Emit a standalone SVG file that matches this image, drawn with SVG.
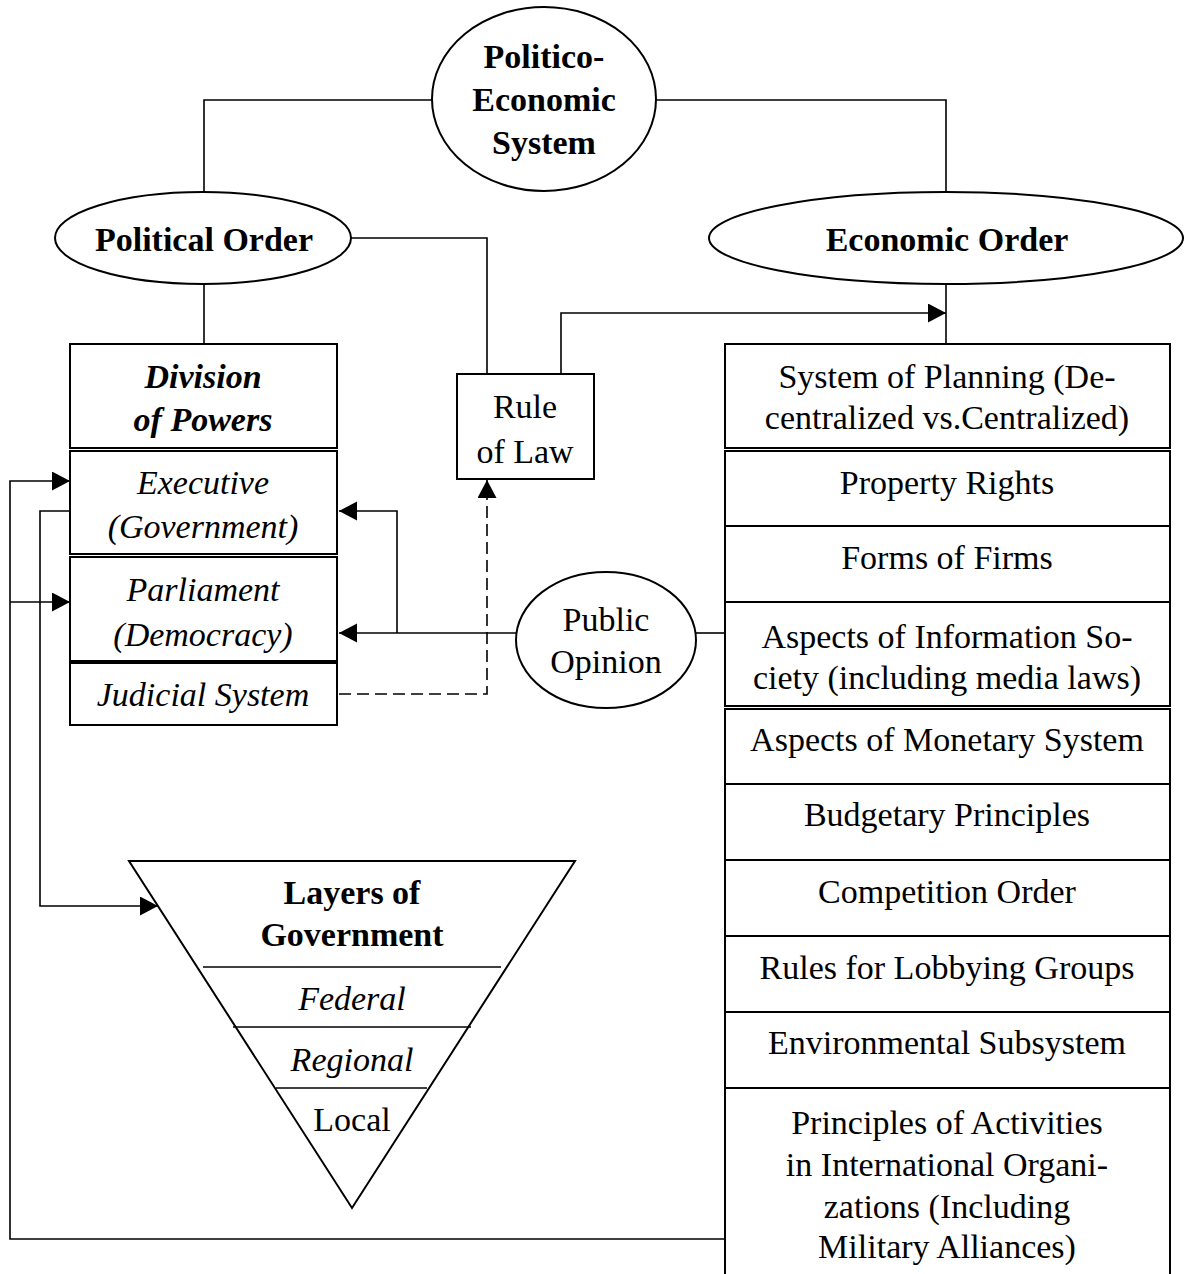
<svg xmlns="http://www.w3.org/2000/svg" width="1184" height="1274" viewBox="0 0 1184 1274">
<style>
.n{fill:#fff;stroke:#000;stroke-width:2}
.c{fill:none;stroke:#000;stroke-width:1.6}
.d{stroke-dasharray:12 6}
text{font-family:"Liberation Serif","Times New Roman",serif;font-size:34px;text-anchor:middle;fill:#000}
.b{font-weight:bold}
.i{font-style:italic}
</style>
<defs>
<marker id="a" markerUnits="userSpaceOnUse" markerWidth="19" markerHeight="20" refX="18" refY="9.5" orient="auto">
<path d="M0,0 L18,9.5 L0,19 Z" fill="#000"/>
</marker>
</defs>
<rect width="1184" height="1274" fill="#fff"/>
<g id="connectors">
<polyline class="c" points="432,100 204,100 204,192"/>
<polyline class="c" points="656,100 946,100 946,192"/>
<line class="c" x1="204" y1="284" x2="204" y2="344"/>
<polyline class="c" points="351,238 487,238 487,374"/>
<polyline class="c" points="561,374 561,313 946,313" marker-end="url(#a)"/>
<line class="c" x1="946" y1="284" x2="946" y2="344"/>
<line class="c" x1="696" y1="633" x2="725" y2="633"/>
<line class="c" x1="516" y1="633" x2="339" y2="633" marker-end="url(#a)"/>
<polyline class="c" points="397,633 397,511 339,511" marker-end="url(#a)"/>
<polyline class="c d" points="339,694 487,694 487,480" marker-end="url(#a)"/>
<polyline class="c" points="725,1239 10,1239 10,481 70,481" marker-end="url(#a)"/>
<line class="c" x1="10" y1="602" x2="70" y2="602" marker-end="url(#a)"/>
<polyline class="c" points="70,511 40,511 40,906 158,906" marker-end="url(#a)"/>
</g>
<g id="politico-economic-system">
<ellipse class="n" cx="544" cy="99" rx="112" ry="92"/>
<text class="b" x="544" y="68">Politico-</text>
<text class="b" x="544" y="111">Economic</text>
<text class="b" x="544" y="154">System</text>
</g>
<g id="political-order">
<ellipse class="n" cx="203" cy="238" rx="148" ry="46"/>
<text class="b" x="204" y="251">Political Order</text>
</g>
<g id="economic-order">
<ellipse class="n" cx="946" cy="238" rx="237" ry="46"/>
<text class="b" x="947" y="251">Economic Order</text>
</g>
<g id="division-of-powers">
<rect class="n" x="70" y="344" width="267" height="104"/>
<text class="b i" x="203" y="388">Division</text>
<text class="b i" x="203" y="431">of Powers</text>
</g>
<g id="executive">
<rect class="n" x="70" y="451" width="267" height="103"/>
<text class="i" x="203" y="494">Executive</text>
<text class="i" x="203" y="538">(Government)</text>
</g>
<g id="parliament">
<rect class="n" x="70" y="557" width="267" height="104"/>
<text class="i" x="203" y="601">Parliament</text>
<text class="i" x="203" y="646">(Democracy)</text>
</g>
<g id="judicial-system">
<rect class="n" x="70" y="663" width="267" height="62"/>
<text class="i" x="203" y="706">Judicial System</text>
</g>
<g id="rule-of-law">
<rect class="n" x="457" y="374" width="137" height="105"/>
<text x="525" y="418">Rule</text>
<text x="525" y="463">of Law</text>
</g>
<g id="public-opinion">
<ellipse class="n" cx="606" cy="640" rx="90" ry="68"/>
<text x="606" y="631">Public</text>
<text x="606" y="673">Opinion</text>
</g>
<g id="layers-of-government">
<polygon class="n" points="129,861 575,861 352,1208"/>
<line class="c" x1="203" y1="967" x2="501" y2="967"/>
<line class="c" x1="233" y1="1027" x2="471" y2="1027"/>
<line class="c" x1="276" y1="1088" x2="427" y2="1088"/>
<text class="b" x="352" y="904">Layers of</text>
<text class="b" x="352" y="946">Government</text>
<text class="i" x="352" y="1010">Federal</text>
<text class="i" x="352" y="1071">Regional</text>
<text x="352" y="1131">Local</text>
</g>
<g id="system-of-planning">
<rect class="n" x="725" y="344" width="445" height="104"/>
<text x="947" y="388">System of Planning (De-</text>
<text x="947" y="429">centralized vs.Centralized)</text>
</g>
<g id="property-rights">
<rect class="n" x="725" y="451" width="445" height="75"/>
<text x="947" y="494">Property Rights</text>
</g>
<g id="forms-of-firms">
<rect class="n" x="725" y="526" width="445" height="76"/>
<text x="947" y="569">Forms of Firms</text>
</g>
<g id="information-society">
<rect class="n" x="725" y="602" width="445" height="104"/>
<text x="947" y="648">Aspects of Information So-</text>
<text x="947" y="689">ciety (including media laws)</text>
</g>
<g id="monetary-system">
<rect class="n" x="725" y="709" width="445" height="75"/>
<text x="947" y="751">Aspects of Monetary System</text>
</g>
<g id="budgetary-principles">
<rect class="n" x="725" y="784" width="445" height="76"/>
<text x="947" y="826">Budgetary Principles</text>
</g>
<g id="competition-order">
<rect class="n" x="725" y="860" width="445" height="76"/>
<text x="947" y="903">Competition Order</text>
</g>
<g id="lobbying-groups">
<rect class="n" x="725" y="936" width="445" height="76"/>
<text x="947" y="979">Rules for Lobbying Groups</text>
</g>
<g id="environmental-subsystem">
<rect class="n" x="725" y="1012" width="445" height="76"/>
<text x="947" y="1054">Environmental Subsystem</text>
</g>
<g id="international-organizations">
<rect class="n" x="725" y="1088" width="445" height="220"/>
<text x="947" y="1134">Principles of Activities</text>
<text x="947" y="1176">in International Organi-</text>
<text x="947" y="1218">zations (Including</text>
<text x="947" y="1258">Military Alliances)</text>
</g>
</svg>
